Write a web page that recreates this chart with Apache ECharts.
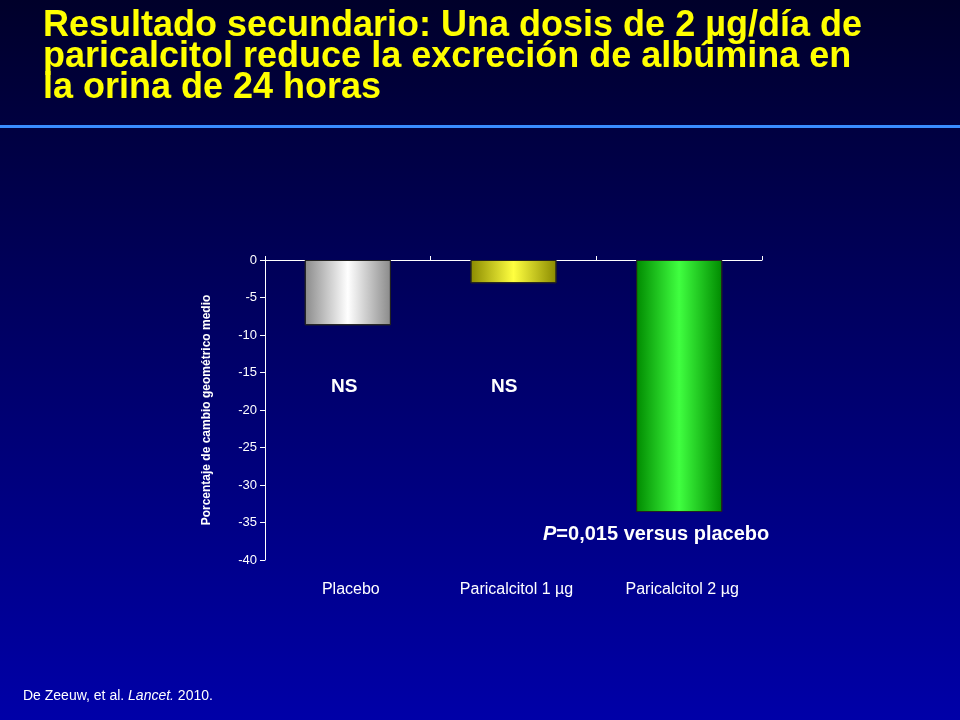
<!DOCTYPE html>
<html><head><meta charset="utf-8">
<script src="https://cdn.jsdelivr.net/npm/echarts@6/dist/echarts.min.js"></script>
<style>html,body{margin:0;padding:0}#c{width:960px;height:720px}</style>
</head><body><div id="c"></div>
<script>
// 类别与数值
const categories = ['Placebo', 'Paricalcitol 1 µg', 'Paricalcitol 2 µg'];
const values = [-8.7, -3.1, -33.6];
const barColors = [['#8a8a8a', '#ffffff', '#8a8a8a'], ['#8a8a00', '#ffff40', '#8a8a00'], ['#008a00', '#40ff40', '#008a00']];

const grad = c => new echarts.graphic.LinearGradient(0, 0, 1, 0, [
  { offset: 0, color: c[0] }, { offset: 0.5, color: c[1] }, { offset: 1, color: c[2] }]);

const FONT = 'Liberation Sans, Arial, sans-serif';
const chart = echarts.init(document.getElementById('c'));
chart.setOption({
  backgroundColor: new echarts.graphic.LinearGradient(0, 0, 0, 1, [
    { offset: 0, color: '#00002a' }, { offset: 1, color: '#0000a8' }]),
  textStyle: { fontFamily: FONT },
  title: [{
    text: 'Resultado secundario: Una dosis de 2 µg/día de\nparicalcitol reduce la excreción de albúmina en\nla orina de 24 horas',
    left: 38, top: 6,
    textStyle: { color: '#ffff00', fontSize: 36, fontWeight: 'bold', lineHeight: 31 },
  }, {
    text: 'De Zeeuw, et al. {i|Lancet.} 2010.', left: 18, top: 684,
    textStyle: { color: '#ffffff', fontSize: 14, fontWeight: 'normal',
      rich: { i: { fontStyle: 'italic', color: '#ffffff', fontSize: 14 } } },
  }],
  graphic: [
    { type: 'rect', shape: { x: 0, y: 125, width: 960, height: 3 }, style: { fill: '#3a8cff' } },
    { type: 'text', left: 331, top: 377, style: { text: 'NS', fill: '#fff', font: 'bold 19px ' + FONT } },
    { type: 'text', left: 491, top: 377, style: { text: 'NS', fill: '#fff', font: 'bold 19px ' + FONT } },
    { type: 'text', left: 543, top: 524, style: {
      rich: { i: { fill: '#fff', font: 'italic bold 20px ' + FONT },
              b: { fill: '#fff', font: 'bold 20px ' + FONT } },
      text: '{i|P}{b|=0,015 versus placebo}' } },
    ...categories.map((c, i) => ({
      type: 'text', x: 265 + 497 / 6 * (2 * i + 1) + 3, y: 582,
      style: { text: c, fill: '#fff', font: '16px ' + FONT, align: 'center' },
    })),
  ],
  grid: { left: 265, right: 198, top: 260, bottom: 160 },
  xAxis: {
    type: 'category', data: categories, position: 'top',
    axisLine: { lineStyle: { color: '#ffffff' } },
    axisTick: { show: true, length: 4 },
    axisLabel: { show: false },
  },
  yAxis: {
    type: 'value', min: -40, max: 0, interval: 5,
    name: 'Porcentaje de cambio geométrico medio', nameLocation: 'middle', nameGap: 52,
    nameTextStyle: { color: '#fff', fontSize: 12, fontWeight: 'bold' },
    axisLine: { show: true, lineStyle: { color: '#ffffff' } },
    axisTick: { show: true },
    axisLabel: { color: '#fff', fontSize: 13 },
    splitLine: { show: false },
  },
  series: [{
    type: 'bar', barWidth: '52%',
    data: values.map((v, i) => ({ value: v, itemStyle: { color: grad(barColors[i]), borderColor: '#222', borderWidth: 1 } })),
  }],
});
</script></body></html>
